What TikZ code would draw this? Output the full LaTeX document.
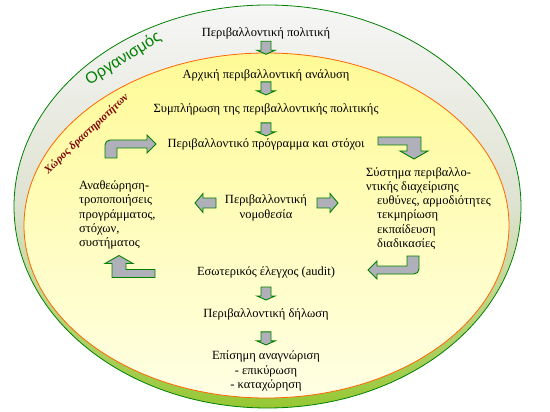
\documentclass[tikz,border=0pt]{standalone}
\usepackage{fontspec}
\setmainfont{Liberation Serif}
\newfontfamily\orgfont{Liberation Sans}
\usetikzlibrary{positioning,calc}
\definecolor{dkgreen}{RGB}{0,128,0}
\definecolor{orng}{RGB}{255,102,0}
\definecolor{dkred}{RGB}{128,0,0}
\definecolor{arrgray}{RGB}{176,176,186}
\definecolor{bandtop}{RGB}{246,246,246}
\definecolor{bandmid}{RGB}{222,226,208}
\definecolor{bandbot}{RGB}{150,200,50}
\definecolor{yeltop}{RGB}{255,250,150}
\definecolor{yelbot}{RGB}{255,255,228}

\begin{document}
\begin{tikzpicture}[x=1pt, y=-1pt, node distance={35pt},
  main/.style = {font=\fontsize{12.5}{14.3}\selectfont, align=center, inner sep=1pt},
  blk/.style = {draw=dkgreen, fill=arrgray, line width=0.9pt, line join=miter},
  darr/.pic = {\filldraw[blk] (-5,-6) -- (5,-6) -- (5,3) -- (9,3) -- (0,7) -- (-9,3) -- (-5,3) -- cycle;},
  harr/.pic = {\filldraw[blk] (-10,-5) -- (3,-5) -- (3,-9.5) -- (11,0) -- (3,9.5) -- (3,5) -- (-10,5) -- cycle;},
  benta/.pic = {\filldraw[blk] (-36,-4) -- (7,-4) -- (7,10) -- (14,10) -- (0,18) -- (-14,10) -- (-7,10) -- (-7,4) -- (-36,4) -- cycle;},
  bentb/.pic = {\filldraw[blk] (-6,-14) -- (6,-14) [rounded corners=5pt] -- (6,4) [sharp corners] -- (-36,4) -- (-36,9) -- (-45,0) -- (-36,-9) -- (-36,-4) -- (-6,-4) -- cycle;}]
\useasboundingbox (0,0) rectangle (550,412);

% organisation and area of activities
\shade[top color=bandtop, bottom color=bandbot, middle color=bandmid] (267.5,206.5) ellipse [x radius=253.5pt, y radius=201.5pt];
\draw[dkgreen, line width=0.8pt] (267.5,206.5) ellipse [x radius=253.5pt, y radius=201.5pt];
\shade[top color=yeltop, bottom color=yelbot] (266.5,225.5) ellipse [x radius=242.5pt, y radius=172.5pt];
\draw[orng, line width=0.8pt] (266.5,225.5) ellipse [x radius=242.5pt, y radius=172.5pt];

\coordinate (orgs) at (86,82);
\coordinate (orge) at (161,35);
\coordinate (zones) at (42,176);
\coordinate (zonee) at (131,92);
\path (orgs) -- node[sloped, text=dkgreen, font=\orgfont\fontsize{16}{16}\selectfont] (org) {Οργανισμός} (orge);
\path (zones) -- node[sloped, text=dkred, font=\itshape\bfseries\fontsize{11}{11}\selectfont] (zone) {Χώρος δραστηριοτήτων} (zonee);

% main column
\node[main] (1) at (266,33) {Περιβαλλοντική πολιτική};
\node[main] (2) [node distance=42pt, below of=1] {Αρχική περιβαλλοντική ανάλυση};
\node[main] (3) [node distance=34pt, below of=2] {Συμπλήρωση της περιβαλλοντικής πολιτικής};
\node[main] (4) [below of=3] {Περιβαλλοντικό πρόγραμμα και στόχοι};
\node[main] (5) [node distance=64pt, below of=4] {Περιβαλλοντική\\νομοθεσία};
\node[main] (6) [node distance=64pt, below of=5] {Εσωτερικός έλεγχος (audit)};
\node[main] (7) [node distance=42pt, below of=6] {Περιβαλλοντική δήλωση};
\node[main] (8) [node distance=57pt, below of=7] {Επίσημη αναγνώριση\\- επικύρωση\\- καταχώρηση};

% side blocks
\node[main, align=left, anchor=west] (9) at (78,215) {Αναθεώρηση-\\τροποποιήσεις\\προγράμματος,\\στόχων,\\συστήματος};
\node[main, align=left, anchor=west] (10) at (365,208.5) {Σύστημα περιβαλλο-\\ντικής διαχείρισης\\\hspace*{11pt}ευθύνες, αρμοδιότητες\\\hspace*{11pt}τεκμηρίωση\\\hspace*{11pt}εκπαίδευση\\\hspace*{11pt}διαδικασίες};

% block arrows
\pic at ($(1)!0.34!(2)$) {darr};
\pic at ($(2)!0.38!(3)$) {darr};
\pic at ($(3)!0.57!(4)$) {darr};
\pic at ($(6)!0.5!(7)$) {darr};
\pic at ($(7)!0.42!(8)$) {darr};

\pic at ([shift={(61,-5)}]5.center) {harr};
\pic[xscale=-1] at ([shift={(-60,-5)}]5.center) {harr};

\pic at (414,141) {benta};
\pic[rotate=180] at (119,273.5) {benta};
\pic at (413,270) {bentb};
\pic[rotate=180] at (111,144) {bentb};

\end{tikzpicture}
\end{document}
